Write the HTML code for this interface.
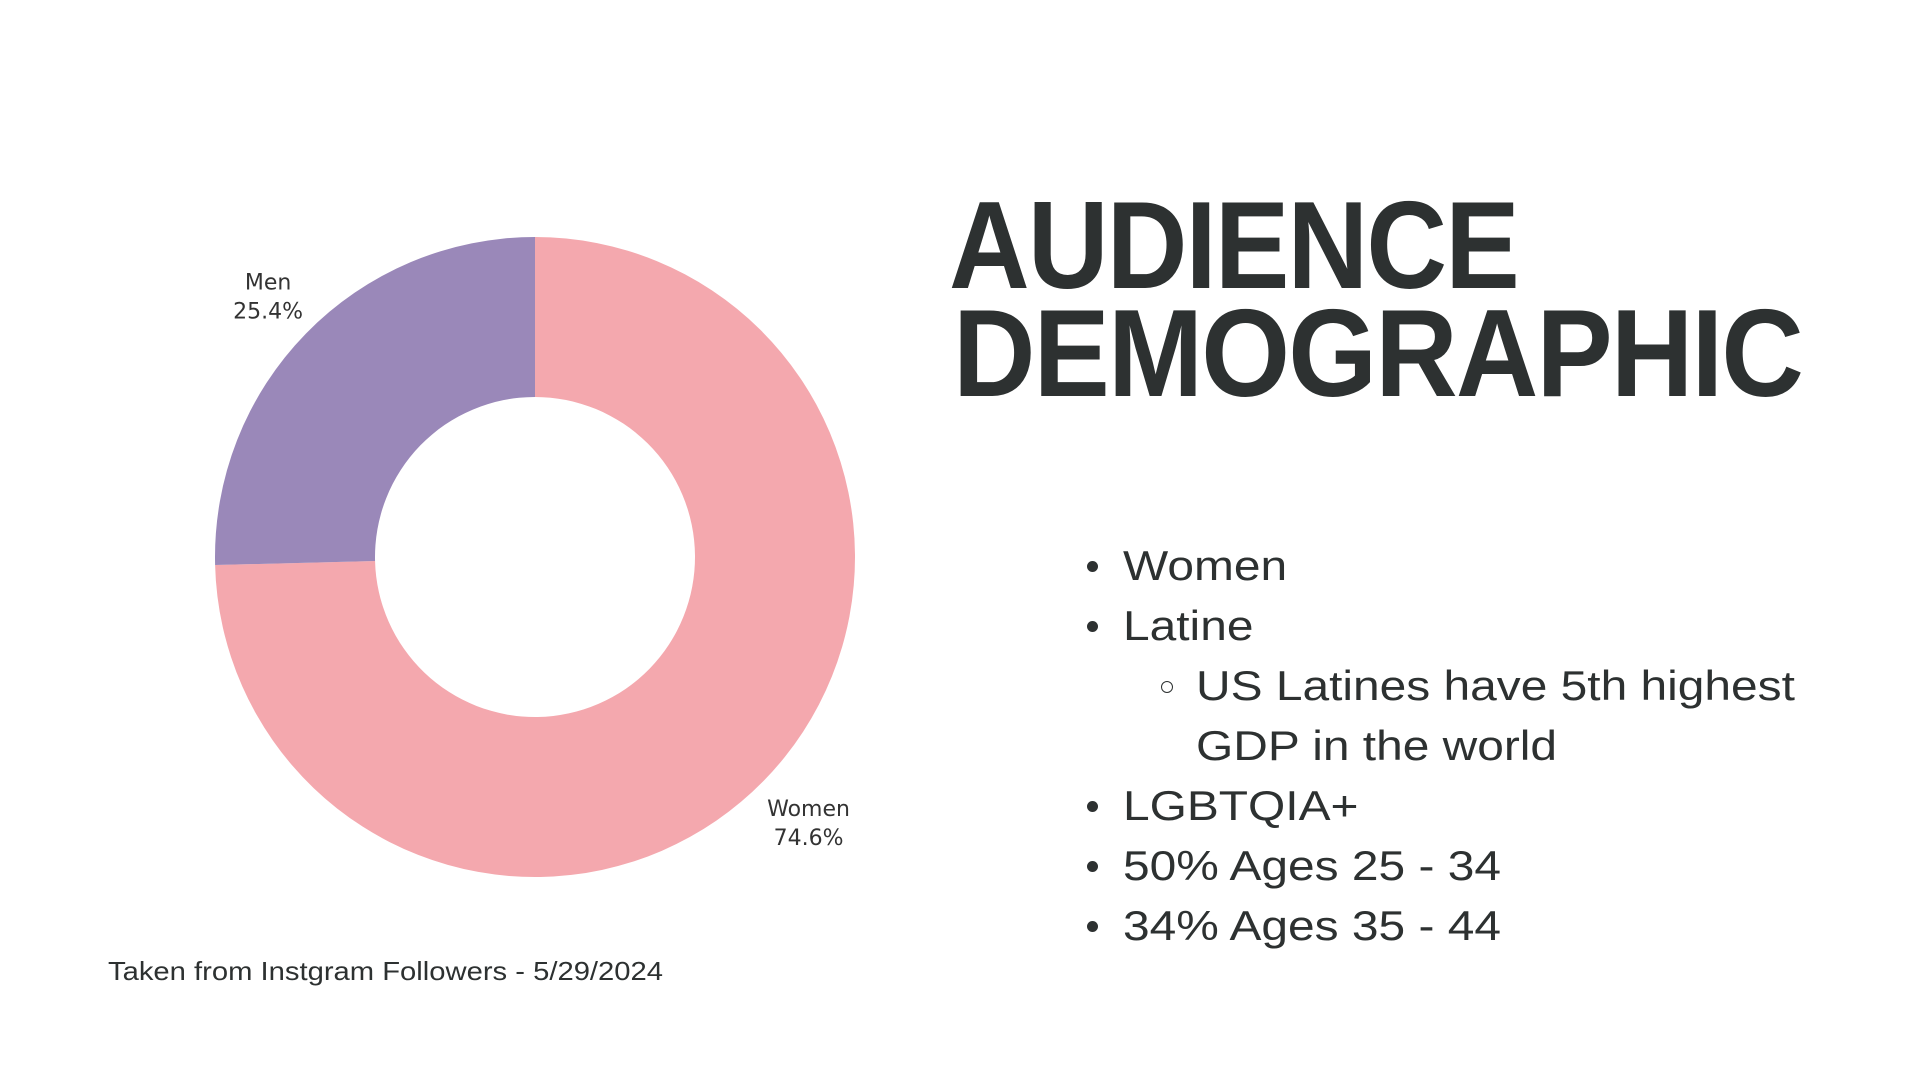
<!DOCTYPE html>
<html><head><meta charset="utf-8"><style>
html,body{margin:0;padding:0;background:#fff;}
#root{position:relative;width:1920px;height:1080px;overflow:hidden;background:#fff;font-family:"Liberation Sans",sans-serif;color:#2d3131;}
.title{position:absolute;font-weight:bold;font-size:124px;line-height:1;white-space:nowrap;transform-origin:0 0;letter-spacing:-2px;}
.b{position:absolute;font-size:42px;white-space:nowrap;line-height:1;transform-origin:0 0;transform:scaleX(1.14);}
.dot{position:absolute;width:11px;height:11px;border-radius:50%;background:#2d3131;}
.circ{position:absolute;width:10px;height:10px;border-radius:50%;border:1.5px solid #2d3131;}
</style></head><body>
<div id="root">
<svg id="chart" width="1920" height="1080" style="position:absolute;left:0;top:0"></svg>
<div class="title" id="t1" style="left:949px;top:184px">AUDIENCE</div>
<div class="title" id="t2" style="left:953px;top:292px">DEMOGRAPHIC</div>

<div class="dot" style="left:1087px;top:561px"></div>
<div class="b" style="left:1123px;top:545px">Women</div>
<div class="dot" style="left:1087px;top:621px"></div>
<div class="b" style="left:1123px;top:605px">Latine</div>
<div class="circ" style="left:1161px;top:681px"></div>
<div class="b" style="left:1196px;top:665px">US Latines have 5th highest</div>
<div class="b" style="left:1196px;top:725px">GDP in the world</div>
<div class="dot" style="left:1087px;top:801px"></div>
<div class="b" style="left:1123px;top:785px">LGBTQIA+</div>
<div class="dot" style="left:1087px;top:861px"></div>
<div class="b" style="left:1123px;top:845px">50% Ages 25 - 34</div>
<div class="dot" style="left:1087px;top:921px"></div>
<div class="b" style="left:1123px;top:905px">34% Ages 35 - 44</div>

<div class="b" id="foot" style="left:108px;top:958px;font-size:26px;transform:none">Taken from Instgram Followers - 5/29/2024</div>
</div>
<script>
const categories = ["Women", "Men"];
const values = [74.6, 25.4];
const labels = ["74.6%", "25.4%"];
const colors = ["#f4a8ae", "#9a88b9"];

const NS = "http://www.w3.org/2000/svg";
const svg = document.getElementById('chart');
const cx = 535, cy = 557, R = 320, r = 160;
const total = values.reduce((a, b) => a + b, 0);
function pt(rad, ang) { return [cx + rad * Math.sin(ang), cy - rad * Math.cos(ang)]; }
let a0 = 0;
values.forEach((v, i) => {
  const a1 = a0 + v / total * 2 * Math.PI;
  const large = (a1 - a0) > Math.PI ? 1 : 0;
  const [x0, y0] = pt(R, a0), [x1, y1] = pt(R, a1), [x2, y2] = pt(r, a1), [x3, y3] = pt(r, a0);
  const p = document.createElementNS(NS, 'path');
  p.setAttribute('d', `M${x0},${y0} A${R},${R} 0 ${large} 1 ${x1},${y1} L${x2},${y2} A${r},${r} 0 ${large} 0 ${x3},${y3} Z`);
  p.setAttribute('fill', colors[i]);
  
  
  svg.appendChild(p);
  const mid = a0 + (a1 - a0) * (i === 0 ? 0.52 : 0.5);
  const [lx, ly0] = pt(R + 50, mid);
  const lxAdj = i === 0 ? lx + 34 : lx - 2;
  const ly = i === 0 ? ly0 - 23 : ly0 - 9;
  const t = document.createElementNS(NS, 'text');
  t.setAttribute('x', lxAdj);
  t.setAttribute('y', ly);
  t.setAttribute('text-anchor', 'middle');
  t.setAttribute('font-family', 'DejaVu Sans, sans-serif');
  t.setAttribute('font-size', '22');
  t.setAttribute('fill', '#333');
  
  
  const s1 = document.createElementNS(NS, 'tspan');
  s1.setAttribute('x', lxAdj); s1.textContent = categories[i];
  const s2 = document.createElementNS(NS, 'tspan');
  s2.setAttribute('x', lxAdj); s2.setAttribute('dy', '29'); s2.textContent = labels[i];
  t.appendChild(s1); t.appendChild(s2);
  svg.appendChild(t);
  a0 = a1;
});
function fit(id, w) { const e = document.getElementById(id); e.style.transform = 'none'; e.style.transformOrigin = '0 0'; const cw = e.getBoundingClientRect().width; e.style.transform = 'scaleX(' + (w / cw) + ')'; }
fit('t1', 569); fit('t2', 849); fit('foot', 555);
</script>
</body></html>
